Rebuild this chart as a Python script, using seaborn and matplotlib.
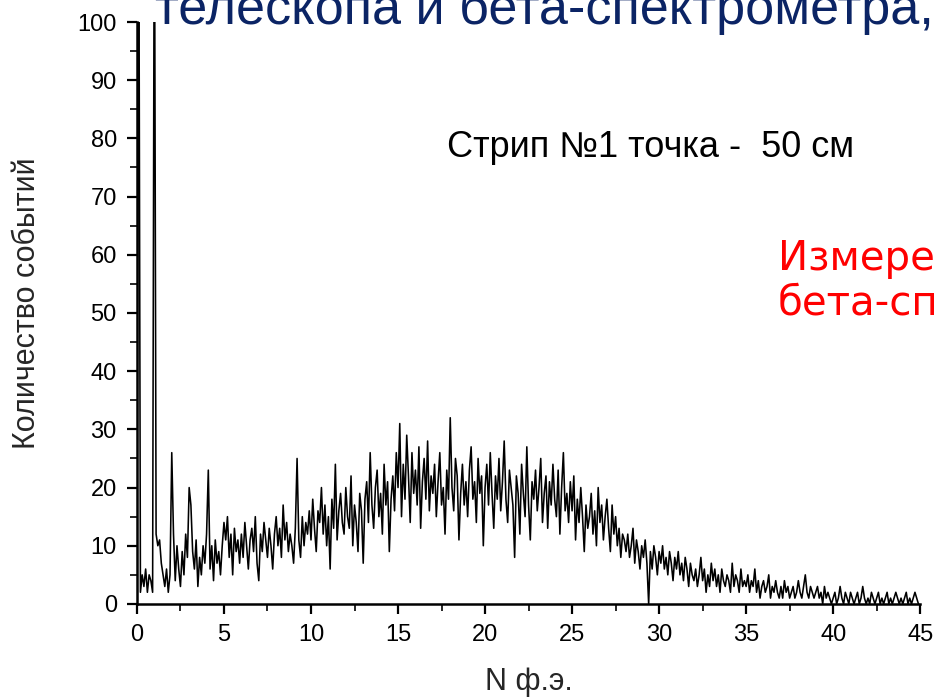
import numpy as np
import pandas as pd
import matplotlib
matplotlib.use("Agg")
import matplotlib.pyplot as plt
from matplotlib.ticker import MultipleLocator
import seaborn as sns

# Photoelectron-count spectrum, strip #1, point at 50 cm (bin width 0.1)
bin_start = 0.0
bin_width = 0.1
counts = [
    4, 130, 2, 5, 3, 6, 2, 5, 4, 2,
    130, 12, 10, 11, 7, 5, 3, 6, 2, 5,
    26, 12, 4, 10, 6, 3, 9, 5, 12, 8,
    20, 17, 9, 6, 11, 3, 8, 5, 10, 7,
    12, 23, 6, 10, 4, 11, 7, 9, 5, 10,
    14, 11, 15, 8, 12, 5, 13, 9, 11, 7,
    12, 8, 14, 10, 6, 11, 13, 9, 15, 7,
    4, 12, 9, 14, 11, 8, 13, 10, 6, 12,
    15, 10, 13, 8, 17, 11, 14, 9, 12, 10,
    7, 13, 25, 11, 8, 15, 10, 14, 12, 16,
    11, 18, 13, 9, 16, 14, 20, 12, 17, 10,
    15, 6, 18, 13, 24, 11, 16, 19, 14, 12,
    20, 15, 13, 22, 10, 17, 14, 9, 19, 16,
    7, 18, 21, 14, 26, 17, 13, 20, 23, 15,
    19, 12, 24, 17, 21, 9, 18, 22, 16, 26,
    20, 31, 15, 24, 18, 29, 22, 14, 26, 19,
    23, 17, 27, 13, 21, 25, 18, 28, 16, 22,
    19, 24, 15, 21, 26, 17, 20, 12, 23, 18,
    32, 20, 16, 25, 22, 11, 19, 24, 17, 21,
    15, 23, 27, 18, 21, 14, 25, 19, 22, 10,
    20, 24, 17, 26, 19, 13, 22, 18, 25, 16,
    21, 28, 18, 14, 23, 20, 17, 8, 22, 19,
    12, 24, 19, 15, 27, 17, 11, 21, 18, 23,
    16, 20, 25, 14, 19, 22, 13, 21, 17, 24,
    18, 15, 23, 12, 20, 26, 16, 19, 14, 21,
    16, 22, 11, 18, 14, 20, 15, 9, 17, 13,
    15, 19, 12, 16, 10, 20, 14, 17, 11, 15,
    18, 13, 9, 17, 12, 15, 10, 13, 8, 12,
    11, 9, 12, 8, 10, 13, 7, 11, 9, 6,
    10, 8, 11, 7, 0, 9, 6, 10, 8, 5,
    9, 7, 10, 6, 8, 5, 9, 7, 4, 8,
    6, 9, 5, 7, 4, 8, 6, 3, 7, 5,
    4, 6, 3, 5, 8, 4, 6, 2, 5, 3,
    7, 4, 6, 3, 5, 2, 6, 4, 3, 5,
    4, 2, 7, 3, 5, 4, 2, 6, 3, 4,
    3, 5, 2, 4, 3, 6, 2, 4, 1, 3,
    4, 2, 3, 5, 1, 3, 2, 4, 2, 1,
    3, 1, 4, 2, 3, 1, 2, 3, 1, 2,
    4, 2, 1, 3, 5, 2, 1, 3, 2, 1,
    2, 3, 1, 2, 0, 3, 1, 2, 1, 0,
    1, 2, 0, 1, 3, 1, 0, 2, 1, 0,
    2, 1, 0, 1, 2, 0, 1, 3, 1, 0,
    1, 0, 2, 1, 0, 1, 2, 0, 1, 0,
    1, 2, 0, 1, 0, 1, 2, 1, 0, 1,
    0, 1, 2, 0, 1, 0, 1, 2, 1, 0,
]

x_ticks = [0, 5, 10, 15, 20, 25, 30, 35, 40, 45]
y_ticks = [0, 10, 20, 30, 40, 50, 60, 70, 80, 90, 100]

title_text = "телескопа и бета-спектрометра,"
note_text = "Стрип №1 точка -  50 см"
red_lines = ["Измерения", "бета-спектрометром"]
x_label = "N ф.э."
y_label = "Количество событий"

df = pd.DataFrame({
    "n": bin_start + bin_width * np.arange(len(counts)),
    "count": counts,
})

sns.set_style("ticks")
plt.rcParams["font.family"] = ["Liberation Sans", "DejaVu Sans"]

fig = plt.figure(figsize=(9.38, 6.99), dpi=100)
ax = fig.add_axes([0.146, 0.136, 0.835, 0.8325])

sns.lineplot(data=df, x="n", y="count", ax=ax, color="black",
             linewidth=1.15, estimator=None, sort=False)

ax.set_xlim(0, 45)
ax.set_ylim(0, 100)
ax.set_xticks(x_ticks)
ax.set_yticks(y_ticks)
ax.xaxis.set_minor_locator(MultipleLocator(2.5))
ax.yaxis.set_minor_locator(MultipleLocator(5))
ax.tick_params(which="major", direction="out", length=7.5, width=1.6,
               labelsize=17, colors="black", pad=7)
ax.tick_params(which="minor", direction="out", length=5, width=1.4)
for side in ("left", "bottom"):
    ax.spines[side].set_linewidth(1.8)
    ax.spines[side].set_color("black")
sns.despine(ax=ax)

ax.set_xlabel(x_label, fontsize=22)
ax.set_ylabel(y_label, fontsize=22)
ax.xaxis.set_label_coords(0.5, -0.108)
ax.yaxis.set_label_coords(-0.121, 0.517)

ax.text(0.396, 0.784, note_text, transform=ax.transAxes, fontsize=26,
        color="black", ha="left", va="center")

fig.text(155 / 938, 1 - 24 / 699, title_text, fontsize=37.5, color="#0b2465",
         ha="left", va="baseline")
for i, line in enumerate(red_lines):
    fig.text(778 / 938, 1 - (270 + 45 * i) / 699, line, fontsize=29,
             color="#ff0000", ha="left", va="baseline",
             family=["DejaVu Sans"])

fig.savefig("out.png", dpi=100)
